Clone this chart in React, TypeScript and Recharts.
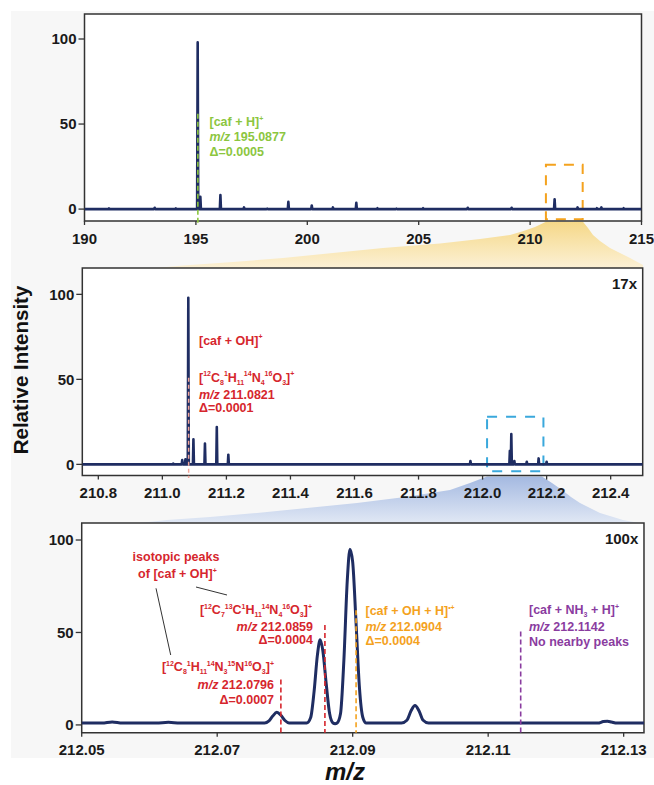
import React from 'react';
import { LineChart, Line, XAxis, YAxis, ReferenceLine, ReferenceArea, CartesianGrid } from 'recharts';

// ---------------- data ----------------
// Panel 1: full range spectrum (m/z, relative intensity)
const fullPeakMz = [191.1, 193.15, 194.1, 195.08, 195.2, 196.1, 197.16, 198.2, 199.15, 200.2, 201.15, 202.2, 203.15, 204.0, 205.2, 207.2, 209.17, 211.1, 212.13, 213.0, 213.2, 214.2];
const fullPeakInt = [0.4, 0.8, 0.4, 98, 7.2, 8.2, 1, 0.3, 4.3, 2.1, 1, 3.7, 0.5, 0.3, 0.5, 0.8, 0.8, 5.8, 1, 0.5, 1, 0.5];
const fullTicks = [190, 195, 200, 205, 210, 215];

// Panel 2: 17x zoom
const zoomPeakMz = [211.034, 211.062, 211.072, 211.081, 211.097, 211.133, 211.17, 211.206, 211.962, 212.0852, 212.0897, 212.0992, 212.138, 212.175, 212.2];
const zoomPeakInt = [0.5, 2.5, 3, 98, 14.7, 12.2, 22, 5.7, 2, 8, 17.8, 2, 1.5, 3.5, 1.5];
const zoomTicks = [210.8, 211.0, 211.2, 211.4, 211.6, 211.8, 212.0, 212.2, 212.4];

// Panel 3: 100x zoom profile
const hiresMz = [212.05, 212.053, 212.0545, 212.056, 212.061, 212.0628, 212.0645, 212.077, 212.0776, 212.0782, 212.0788, 212.0794, 212.08, 212.0806, 212.0832, 212.0838, 212.0843, 212.0848, 212.0852, 212.0856, 212.0861, 212.0866, 212.0871, 212.0874, 212.0877, 212.0882, 212.0887, 212.0892, 212.0896, 212.09, 212.0905, 212.091, 212.0915, 212.092, 212.0972, 212.098, 212.0986, 212.0992, 212.0998, 212.1004, 212.1012, 212.1262, 212.127, 212.1276, 212.1282, 212.129, 212.133];
const hiresInt = [1.0, 1.0, 1.6, 1.0, 1.0, 1.4, 1.0, 1.0, 2.0, 4.8, 6.8, 5.2, 2.4, 1.1, 1.0, 4.0, 18, 38, 46, 40, 22, 6, 1.0, 0.6, 1.0, 6, 35, 78, 95, 88, 55, 20, 4, 1.0, 1.0, 2.5, 7.5, 10.5, 7.5, 2.5, 1.0, 1.0, 1.8, 2.0, 1.6, 1.0, 1.0];
const hiresTicks = [212.05, 212.07, 212.09, 212.11, 212.13];

const yTicks = [0, 50, 100];

// annotation marker lines
const cafHMz = 195.0877;
const cafOHMz = 211.0821;
const hiresMarkerMz = [212.0794, 212.0859, 212.0905, 212.1148];
const hiresMarkerTop = [24.5, 54, 62, 50.5];

// ---------------- styles ----------------
const NAVY = '#1f2d62';
const FONT = "'Liberation Sans', Arial, Helvetica, sans-serif";
const RED = '#d6262d';
const GREEN = '#8cc63f';
const ORANGE = '#f4a21e';
const PURPLE = '#8a3c9f';
const BLUE_BOX = '#3aa8dc';
const AXIS = '#333333';

function sticks(mz: number[], ints: number[], lo: number, hi: number, w: number) {
  const out: { x: number; y: number }[] = [{ x: lo, y: 0 }];
  mz.forEach((m, i) => {
    out.push({ x: m - w, y: 0 });
    out.push({ x: m, y: ints[i] });
    out.push({ x: m + w, y: 0 });
  });
  out.push({ x: hi, y: 0 });
  return out;
}

const fullData = sticks(fullPeakMz, fullPeakInt, 190, 215, 0.025);
const zoomData = sticks(zoomPeakMz, zoomPeakInt, 210.75, 212.5, 0.0016);
const hiresData = hiresMz.map((m, i) => ({ x: m, y: hiresInt[i] }));

const tickStyle = { fill: '#1a1a1a', fontSize: 15, fontWeight: 'bold' as const, fontFamily: FONT };

type Seg = [string, 'n' | 'sup' | 'sub' | 'i'];
function Rich({ x, y, anchor = 'start', color, size = 12.5, segs }: { x: number; y: number; anchor?: string; color: string; size?: number; segs: Seg[] }) {
  let cur = 0;
  const small = size * 0.56;
  return (
    <text x={x} y={y} textAnchor={anchor as any} fill={color} fontSize={size} fontWeight="bold" fontFamily={FONT}>
      {segs.map(([t, k], i) => {
        const target = k === 'sup' ? -size * 0.42 : k === 'sub' ? size * 0.24 : 0;
        const dy = target - cur;
        cur = target;
        return (
          <tspan key={i} dy={dy} fontSize={k === 'sup' || k === 'sub' ? small : size} fontStyle={k === 'i' ? 'italic' : undefined}>
            {t}
          </tspan>
        );
      })}
    </text>
  );
}

interface PanelProps {
  top: number;
  height: number;
  margin: { top: number; right: number; bottom: number; left: number };
  data: { x: number; y: number }[];
  xDomain: [number, number];
  yDomain: [number, number];
  xTicks: number[];
  fmt: (v: number) => string;
  lineType: 'linear' | 'monotone';
  lineWidth: number;
  extras: React.ReactNode[];
}

function Panel(p: PanelProps) {
  return (
    <div style={{ position: 'absolute', left: 0, top: p.top, zIndex: 2 }}>
      <LineChart width={654} height={p.height} data={p.data} margin={p.margin}>
        <CartesianGrid fill="#ffffff" horizontal={false} vertical={false} />
        <XAxis
          dataKey="x"
          type="number"
          domain={p.xDomain}
          ticks={p.xTicks}
          tickFormatter={p.fmt}
          allowDataOverflow
          axisLine={false}
          tickLine={{ stroke: AXIS, strokeWidth: 1.3 }}
          tickSize={4}
          tickMargin={8}
          height={30}
          tick={tickStyle}
          interval={0}
        />
        <YAxis
          type="number"
          domain={p.yDomain}
          ticks={yTicks}
          allowDataOverflow
          axisLine={false}
          tickLine={{ stroke: AXIS, strokeWidth: 1.3 }}
          tickSize={6}
          tickMargin={2}
          width={60}
          tick={tickStyle}
          interval={0}
        />
        <Line
          type={p.lineType}
          dataKey="y"
          stroke={NAVY}
          strokeWidth={p.lineWidth}
          dot={false}
          activeDot={false}
          isAnimationActive={false}
          strokeLinejoin="round"
        />
        {p.extras}
        <ReferenceArea
          x1={p.xDomain[0]}
          x2={p.xDomain[1]}
          y1={p.yDomain[0]}
          y2={p.yDomain[1]}
          fill="none"
          stroke={AXIS}
          strokeWidth={1.5}
          ifOverflow="visible"
        />
      </LineChart>
    </div>
  );
}

export default function App() {
  const p1Y: [number, number] = [-7, 114.7];
  const p2Y: [number, number] = [-6.6, 115.5];
  const p3Y: [number, number] = [-4.2, 109.2];
  const markerColors = [RED, RED, ORANGE, PURPLE];

  const formulaA: Seg[] = [
    ['[', 'n'], ['12', 'sup'], ['C', 'n'], ['8', 'sub'], ['1', 'sup'], ['H', 'n'], ['11', 'sub'], ['14', 'sup'], ['N', 'n'], ['4', 'sub'], ['16', 'sup'], ['O', 'n'], ['3', 'sub'], [']', 'n'], ['+', 'sup'],
  ];
  const formulaB: Seg[] = [
    ['[', 'n'], ['12', 'sup'], ['C', 'n'], ['7', 'sub'], ['13', 'sup'], ['C', 'n'], ['1', 'sup'], ['H', 'n'], ['11', 'sub'], ['14', 'sup'], ['N', 'n'], ['4', 'sub'], ['16', 'sup'], ['O', 'n'], ['3', 'sub'], [']', 'n'], ['+', 'sup'],
  ];
  const formulaC: Seg[] = [
    ['[', 'n'], ['12', 'sup'], ['C', 'n'], ['8', 'sub'], ['1', 'sup'], ['H', 'n'], ['11', 'sub'], ['14', 'sup'], ['N', 'n'], ['3', 'sub'], ['15', 'sup'], ['N', 'n'], ['16', 'sup'], ['O', 'n'], ['3', 'sub'], [']', 'n'], ['+', 'sup'],
  ];

  const yellowPts = [
    [546, 221.7], [535, 227], [522, 231.5], [510, 235], [480, 239], [440, 243.5], [383, 248], [333, 253], [283, 258], [233, 262], [183, 265.5], [150, 268.5],
    [643, 268.5], [643, 265], [630, 258], [620, 253], [610, 248], [600, 241], [593, 235], [588, 228], [583, 221.7],
  ];
  const bluePts = [
    [487, 476.5], [470, 483], [450, 490], [405, 497], [357, 503], [307, 508], [257, 513], [210, 517], [167, 520], [130, 524],
    [644, 524], [623, 520], [600, 513], [580, 503], [571, 497], [562, 490], [552, 483], [542, 476.5],
  ];
  const toPath = (pts: number[][]) => 'M' + pts.map((q) => q.join(',')).join(' L') + ' Z';

  return (
    <div style={{ position: 'absolute', left: 0, top: 0, width: 654, height: 785, background: '#ffffff', overflow: 'hidden' }}>
      <div style={{ position: 'absolute', left: 11, top: 11, width: 643, height: 747, background: '#f7f7f7', zIndex: 0 }} />
      <svg width={654} height={785} style={{ position: 'absolute', left: 0, top: 0, zIndex: 1 }}>
        <defs>
          <linearGradient id="gy" x1="0" y1="0" x2="0" y2="1">
            <stop offset="0" stopColor="#f5d888" />
            <stop offset="1" stopColor="#fcf1d6" />
          </linearGradient>
          <linearGradient id="gb" x1="0" y1="0" x2="0" y2="1">
            <stop offset="0" stopColor="#a4b9e1" />
            <stop offset="1" stopColor="#e2e9f5" />
          </linearGradient>
        </defs>
        <path d={toPath(yellowPts)} fill="url(#gy)" />
        <path d={toPath(bluePts)} fill="url(#gb)" />
      </svg>

      <Panel
        top={4}
        height={257}
        margin={{ top: 10, right: 12.5, bottom: 10, left: 24.5 }}
        data={fullData}
        xDomain={[190, 215]}
        yDomain={p1Y}
        xTicks={fullTicks}
        fmt={(v) => String(v)}
        lineType="linear"
        lineWidth={2.6}
        extras={[
          <ReferenceLine key="g" segment={[{ x: cafHMz, y: 56 }, { x: cafHMz, y: -8.2 }]} stroke={GREEN} strokeWidth={1.6} strokeDasharray="5 3" ifOverflow="visible" />,
          <ReferenceArea key="ob" x1={210.71} x2={212.36} y1={-6} y2={26} fill="none" stroke={ORANGE} strokeWidth={2} strokeDasharray="10 8" ifOverflow="visible" />,
        ]}
      />

      <Panel
        top={257.7}
        height={257.6}
        margin={{ top: 10, right: 11.3, bottom: 10, left: 22.3 }}
        data={zoomData}
        xDomain={[210.75, 212.5]}
        yDomain={p2Y}
        xTicks={zoomTicks}
        fmt={(v) => v.toFixed(1)}
        lineType="linear"
        lineWidth={2.6}
        extras={[
          <ReferenceLine key="p" segment={[{ x: cafOHMz, y: 51 }, { x: cafOHMz, y: -8 }]} stroke="#f2a79c" strokeWidth={1.5} strokeDasharray="4 3" ifOverflow="visible" />,
          <ReferenceArea key="bb" x1={212.014} x2={212.19} y1={-4} y2={28} fill="none" stroke={BLUE_BOX} strokeWidth={2} strokeDasharray="10 9" ifOverflow="visible" />,
        ]}
      />

      <Panel
        top={513.3}
        height={259.7}
        margin={{ top: 10, right: 10, bottom: 10, left: 21.7 }}
        data={hiresData}
        xDomain={[212.05, 212.133]}
        yDomain={p3Y}
        xTicks={hiresTicks}
        fmt={(v) => v.toFixed(2)}
        lineType="monotone"
        lineWidth={3}
        extras={hiresMarkerMz.map((m, i) => (
          <ReferenceLine
            key={'m' + i}
            segment={[{ x: m, y: hiresMarkerTop[i] }, { x: m, y: -4.2 }]}
            stroke={markerColors[i]}
            strokeWidth={1.6}
            strokeDasharray="5 3"
            ifOverflow="visible"
          />
        ))}
      />

      <svg width={654} height={785} style={{ position: 'absolute', left: 0, top: 0, zIndex: 3, pointerEvents: 'none' }}>
        {/* panel 1 */}
        <Rich x={209.5} y={126} color={GREEN} segs={[['[caf + H]', 'n'], ['+', 'sup']]} />
        <Rich x={209.5} y={141} color={GREEN} segs={[['m/z', 'i'], [' 195.0877', 'n']]} />
        <Rich x={209.5} y={155.5} color={GREEN} segs={[['Δ=0.0005', 'n']]} />

        {/* panel 2 */}
        <text x={637} y={289} textAnchor="end" fontSize={15} fontWeight="bold" fontFamily={FONT} fill="#1a1a1a">17x</text>
        <Rich x={199} y={344.5} color={RED} segs={[['[caf + OH]', 'n'], ['+', 'sup']]} />
        <Rich x={199} y={381.5} color={RED} segs={formulaA} />
        <Rich x={199} y={398.5} color={RED} segs={[['m/z', 'i'], [' 211.0821', 'n']]} />
        <Rich x={199} y={411.5} color={RED} segs={[['Δ=0.0001', 'n']]} />

        {/* panel 3 */}
        <text x={638.3} y={543.5} textAnchor="end" fontSize={15} fontWeight="bold" fontFamily={FONT} fill="#1a1a1a">100x</text>
        <Rich x={176} y={560.5} anchor="middle" color={RED} segs={[['isotopic peaks', 'n']]} />
        <Rich x={177.5} y={578} anchor="middle" color={RED} segs={[['of [caf + OH]', 'n'], ['+', 'sup']]} />
        <line x1={156} y1={588.3} x2={170.7} y2={655} stroke="#333" strokeWidth={1} />
        <line x1={196} y1={587} x2={227} y2={595} stroke="#333" strokeWidth={1} />

        <Rich x={312} y={614} anchor="end" color={RED} segs={formulaB} />
        <Rich x={313} y={631} anchor="end" color={RED} segs={[['m/z', 'i'], [' 212.0859', 'n']]} />
        <Rich x={313} y={644} anchor="end" color={RED} segs={[['Δ=0.0004', 'n']]} />

        <Rich x={274} y={671} anchor="end" color={RED} segs={formulaC} />
        <Rich x={274} y={688.5} anchor="end" color={RED} segs={[['m/z', 'i'], [' 212.0796', 'n']]} />
        <Rich x={274} y={703.5} anchor="end" color={RED} segs={[['Δ=0.0007', 'n']]} />

        <Rich x={365.5} y={615} color={ORANGE} segs={[['[caf + OH + H]', 'n'], ['•+', 'sup']]} />
        <Rich x={365.5} y={631} color={ORANGE} segs={[['m/z', 'i'], [' 212.0904', 'n']]} />
        <Rich x={365.5} y={645} color={ORANGE} segs={[['Δ=0.0004', 'n']]} />

        <Rich x={529} y={614} color={PURPLE} segs={[['[caf + NH', 'n'], ['3', 'sub'], [' + H]', 'n'], ['+', 'sup']]} />
        <Rich x={529} y={631} color={PURPLE} segs={[['m/z', 'i'], [' 212.1142', 'n']]} />
        <Rich x={529} y={646} color={PURPLE} segs={[['No nearby peaks', 'n']]} />

        {/* axis titles */}
        <text x={20} y={370} transform="rotate(-90 20 370)" textAnchor="middle" dominantBaseline="central" fontSize={20.5} fontWeight="bold" fontFamily={FONT} fill="#111">
          Relative Intensity
        </text>
        <text x={345} y={780} textAnchor="middle" fontSize={24} fontWeight="bold" fontStyle="italic" fontFamily={FONT} fill="#111">
          m/z
        </text>
      </svg>
    </div>
  );
}
